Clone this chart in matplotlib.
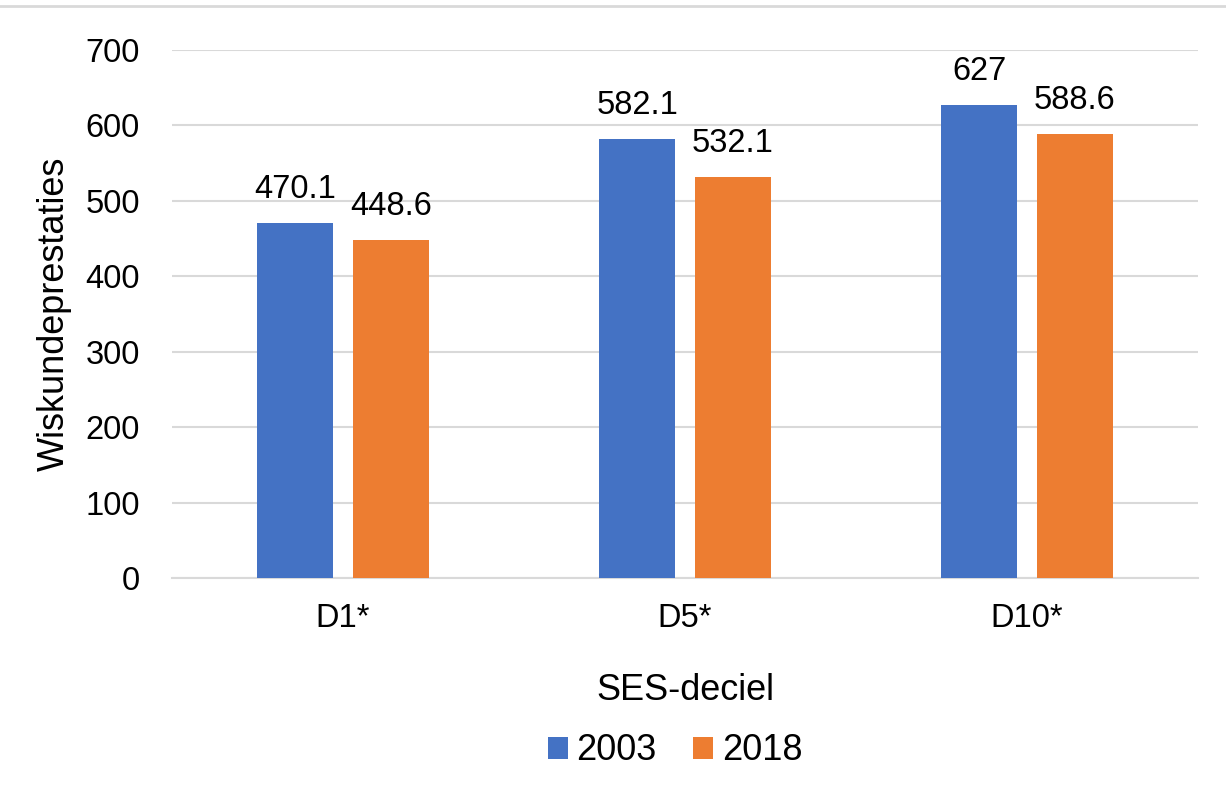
import numpy as np
import matplotlib.pyplot as plt
from matplotlib.lines import Line2D

plt.rcParams['font.family'] = ['Liberation Sans', 'DejaVu Sans']

categories = ["D1*", "D5*", "D10*"]
waarden_2003 = [470.1, 582.1, 627]
waarden_2018 = [448.6, 532.1, 588.6]
labels_2003 = ["470.1", "582.1", "627"]
labels_2018 = ["448.6", "532.1", "588.6"]

blauw = "#4472C4"
oranje = "#ED7D31"
grijs = "#D9D9D9"

fig = plt.figure(figsize=(12.26, 8.01), dpi=100)
ax = fig.add_axes([172 / 1226, 1 - 578 / 801, 1026 / 1226, 528 / 801])

x = np.arange(len(categories))
breedte = 0.222
afstand = 0.14

b1 = ax.bar(x - afstand, waarden_2003, breedte, color=blauw, label="2003", zorder=3)
b2 = ax.bar(x + afstand, waarden_2018, breedte, color=oranje, label="2018", zorder=3)

for bars, labels in [(b1, labels_2003), (b2, labels_2018)]:
    for rect, lab in zip(bars, labels):
        ax.annotate(lab, (rect.get_x() + rect.get_width() / 2, rect.get_height()),
                    xytext=(0, 13), textcoords="offset points",
                    ha="center", va="bottom", fontsize=23.5)

ax.set_xlim(-0.5, 2.5)
ax.set_ylim(0, 700)
ax.set_yticks(range(0, 701, 100))
ax.set_xticks(x)
ax.set_xticklabels(categories)
ax.tick_params(axis="both", length=0, labelsize=23.5)
ax.tick_params(axis="y", pad=23)
ax.tick_params(axis="x", pad=18)
ax.grid(axis="y", color=grijs, linewidth=1.5, zorder=0)
for s in ["top", "right", "left"]:
    ax.spines[s].set_visible(False)
ax.spines["bottom"].set_color(grijs)
ax.spines["bottom"].set_linewidth(1.5)

ax.set_xlabel("SES-deciel", fontsize=26, labelpad=28)
ax.set_ylabel("Wiskundeprestaties", fontsize=26, labelpad=10)

fig.legend(handles=[b1, b2], loc="center", bbox_to_anchor=(675 / 1226, 1 - 751 / 801),
           ncol=2, frameon=False, fontsize=26, handlelength=0.55, handleheight=0.55,
           handletextpad=0.25, columnspacing=1.0)

fig.add_artist(Line2D([0, 1], [1 - 6 / 801, 1 - 6 / 801], color=grijs, linewidth=2,
                      transform=fig.transFigure))

fig.savefig("out.png", dpi=100)
